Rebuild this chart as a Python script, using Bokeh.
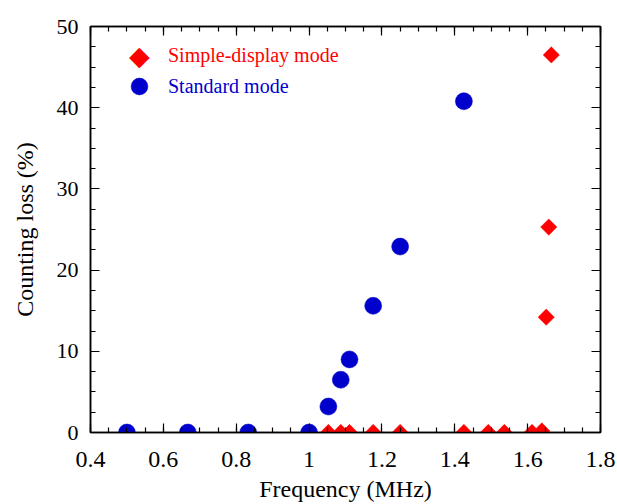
from bokeh.plotting import figure
from bokeh.models import (LinearAxis, SingleIntervalTicker, NumeralTickFormatter,
                          CustomJSTickFormatter, Range1d, Legend, LegendItem,
                          ColumnDataSource, Label)
from bokeh.embed import file_html
from bokeh.resources import INLINE
import math

# ---- data ----
std_freq = [0.5, 0.667, 0.833, 1.0, 1.053, 1.087, 1.111, 1.176, 1.25, 1.425]
std_loss = [0.0, 0.0, 0.0, 0.0, 3.2, 6.5, 9.0, 15.6, 22.9, 40.8]

sim_freq = [1.053, 1.087, 1.111, 1.176, 1.25, 1.425, 1.492, 1.536, 1.612, 1.639,
            1.651, 1.658, 1.665]
sim_loss = [0.0, 0.0, 0.0, 0.0, 0.0, 0.0, 0.0, 0.0, 0.0, 0.2, 14.2, 25.3, 46.5]

x_label = "Frequency (MHz)"
y_label = "Counting loss (%)"
sim_name = "Simple-display mode"
std_name = "Standard mode"

RED = "#FF0000"
BLUE = "#0000CC"
FONT = "Liberation Serif"

p = figure(width=617, height=504, output_backend="svg", toolbar_location=None,
           x_range=Range1d(0.4, 1.8), y_range=Range1d(0, 50),
           min_border_left=90, min_border_right=17, min_border_top=26,
           min_border_bottom=71, x_axis_location=None, y_axis_location=None)
p.grid.visible = False
p.outline_line_color = "black"
p.outline_line_width = 1.5
p.background_fill_color = "white"
p.border_fill_color = "white"


def mk_axis(kind, show_labels):
    if kind == "x":
        t = SingleIntervalTicker(interval=0.2, num_minor_ticks=4)
    else:
        t = SingleIntervalTicker(interval=10, num_minor_ticks=4)
    ax = LinearAxis(ticker=t)
    ax.axis_line_color = "black"
    ax.axis_line_width = 1.5
    ax.major_tick_line_color = "black"
    ax.minor_tick_line_color = "black"
    ax.major_tick_line_width = 1.2
    ax.minor_tick_line_width = 1.2
    ax.major_tick_in = 9
    ax.major_tick_out = 0
    ax.minor_tick_in = 5
    ax.minor_tick_out = 0
    ax.major_label_text_font = FONT
    ax.major_label_text_color = "black"
    ax.axis_label_text_font = FONT
    ax.axis_label_text_font_style = "normal"
    ax.axis_label_text_color = "black"
    ax.axis_label_text_font_size = "24px"
    if kind == "x":
        ax.formatter = NumeralTickFormatter(format="0.[0]")
        ax.major_label_text_font_size = "24px"
    else:
        ax.major_label_text_font_size = "22px"
    if not show_labels:
        ax.formatter = CustomJSTickFormatter(code="return ''")
        ax.major_label_text_font_size = "8px"
        ax.major_label_standoff = 0
    return ax


xb = mk_axis("x", True)
xb.axis_label = x_label
xb.major_label_standoff = 19
xb.axis_label_standoff = 6
p.add_layout(xb, "below")

yl = mk_axis("y", True)
yl.axis_label = y_label
yl.major_label_standoff = 12
yl.axis_label_standoff = 16
p.add_layout(yl, "left")

p.add_layout(mk_axis("x", False), "above")
p.add_layout(mk_axis("y", False), "right")

src_std = ColumnDataSource(dict(x=std_freq, y=std_loss))
src_sim = ColumnDataSource(dict(x=sim_freq, y=sim_loss))

r_std = p.scatter("x", "y", source=src_std, marker="circle", size=17,
                  fill_color=BLUE, line_color=BLUE, line_width=0.5)
r_sim = p.scatter("x", "y", source=src_sim, marker="square", size=11.5,
                  angle=math.pi / 4, fill_color=RED, line_color=RED,
                  line_width=0.5)

# legend-only placeholder for the red entry (its diamond is drawn as a label)
r_sim_key = p.scatter(x=[], y=[], marker="square", size=1,
                      fill_alpha=0, line_alpha=0)


def mk_legend(renderer, label, color, box, loc, standoff):
    lg = Legend(items=[LegendItem(label=label, renderers=[renderer])],
                location=loc, padding=0, margin=0, spacing=0,
                glyph_width=box, glyph_height=box, label_standoff=standoff,
                border_line_color=None, background_fill_alpha=0,
                label_text_font=FONT, label_text_font_size="20px",
                label_text_color=color)
    return lg


p.add_layout(mk_legend(r_sim_key, sim_name, RED, 28, (35, 363), 15))
p.add_layout(mk_legend(r_std, std_name, BLUE, 42, (28, 325), 8))

# red diamond key symbol, in screen units relative to the frame
p.add_layout(Label(x=49, y=377, x_units="screen", y_units="screen",
                   text="\u25C6", text_font="DejaVu Sans",
                   text_font_size="27px", text_color=RED,
                   text_align="center", text_baseline="middle"))

open("out.html", "w").write(file_html(p, INLINE))
